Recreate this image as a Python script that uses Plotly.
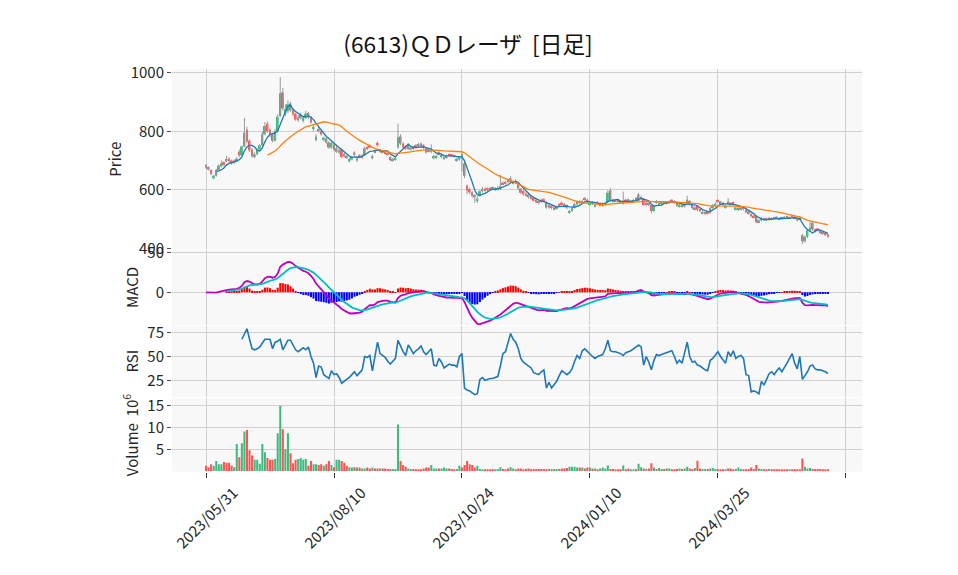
import plotly.graph_objects as go
from plotly.subplots import make_subplots
import pandas as pd

title_text = "(6613)ＱＤレーザ  [日足]"

opens = [
    684, 678, 668, 640, 648, 668, 680, 694, 705, 706,
    700, 692, 698, 730, 718, 748, 805, 768, 738, 712,
    722, 738, 752, 790, 826, 805, 790, 768, 800, 852,
    932, 858, 868, 895, 872, 860, 838, 845, 836, 846,
    862, 848, 808, 770, 808, 800, 770, 775, 762, 745,
    755, 730, 728, 735, 722, 716, 698, 704, 728, 700,
    718, 710, 718, 746, 752, 708, 732, 760, 730, 734,
    730, 726, 712, 700, 704, 745, 782, 758, 748, 740,
    738, 746, 752, 755, 758, 752, 742, 738, 730, 708,
    710, 728, 712, 706, 710, 722, 720, 718, 700, 704,
    722, 690, 615, 602, 592, 582, 562, 580, 595, 604,
    604, 606, 608, 600, 602, 604, 624, 626, 634, 628,
    622, 630, 618, 604, 596, 588, 584, 578, 572, 566,
    562, 566, 568, 556, 540, 546, 534, 536, 552, 556,
    552, 548, 522, 528, 540, 550, 562, 554, 572, 566,
    550, 558, 544, 558, 548, 546, 550, 558, 598, 566,
    566, 564, 562, 552, 566, 568, 558, 560, 572, 562,
    568, 570, 548, 556, 548, 528, 562, 550, 552, 560,
    554, 556, 566, 562, 556, 544, 550, 544, 552, 562,
    548, 534, 546, 534, 520, 518, 526, 522, 538, 546,
    564, 560, 556, 540, 560, 556, 558, 534, 532, 534,
    540, 532, 526, 518, 512, 512, 490, 496, 502, 504,
    498, 504, 506, 508, 504, 506, 508, 508, 502, 512,
    508, 503, 504, 445, 425, 440, 462, 488, 466, 468,
    460, 456, 452, 448,
]
highs = [
    688, 680, 670, 652, 672, 688, 700, 698, 716, 712,
    704, 704, 712, 738, 752, 846, 815, 772, 742, 728,
    742, 756, 800, 832, 834, 812, 795, 808, 858, 985,
    948, 892, 905, 900, 878, 864, 856, 864, 850, 870,
    866, 852, 822, 790, 815, 805, 782, 780, 766, 765,
    760, 750, 742, 738, 726, 720, 710, 716, 732, 712,
    722, 722, 748, 750, 756, 720, 736, 766, 740, 736,
    732, 728, 716, 710, 712, 826, 790, 762, 752, 760,
    750, 750, 756, 760, 762, 756, 744, 742, 756, 720,
    720, 732, 724, 716, 720, 725, 722, 720, 710, 716,
    728, 695, 618, 608, 596, 586, 578, 600, 610, 608,
    608, 610, 612, 610, 614, 651, 630, 632, 638, 648,
    634, 636, 622, 606, 600, 592, 588, 580, 574, 570,
    566, 570, 572, 560, 552, 550, 545, 546, 555, 560,
    556, 550, 532, 544, 556, 564, 566, 566, 576, 570,
    560, 562, 552, 562, 558, 558, 560, 600, 606, 570,
    568, 566, 564, 594, 570, 570, 566, 570, 576, 590,
    580, 572, 560, 558, 550, 548, 566, 560, 560, 562,
    562, 564, 568, 564, 558, 554, 552, 556, 580, 566,
    550, 544, 548, 536, 530, 528, 528, 542, 552, 558,
    568, 562, 558, 550, 572, 558, 560, 544, 542, 544,
    542, 534, 528, 520, 514, 514, 500, 508, 504, 506,
    508, 506, 508, 510, 506, 508, 510, 510, 510, 514,
    510, 505, 508, 450, 445, 466, 492, 492, 468, 470,
    462, 458, 454, 450,
]
lows = [
    672, 666, 650, 636, 645, 665, 676, 680, 694, 694,
    686, 688, 694, 712, 715, 745, 760, 730, 710, 708,
    718, 732, 748, 786, 795, 780, 762, 765, 796, 848,
    870, 852, 862, 866, 852, 836, 832, 840, 830, 842,
    842, 826, 800, 765, 795, 785, 765, 758, 740, 740,
    732, 726, 722, 708, 710, 705, 694, 700, 716, 696,
    708, 706, 716, 736, 742, 704, 724, 748, 726, 724,
    720, 718, 698, 696, 700, 740, 752, 742, 736, 736,
    734, 736, 740, 746, 748, 740, 724, 728, 726, 704,
    706, 718, 708, 702, 706, 714, 712, 710, 696, 700,
    662, 640, 585, 585, 574, 555, 555, 576, 590, 594,
    596, 598, 600, 596, 598, 600, 616, 618, 624, 624,
    618, 620, 600, 586, 580, 576, 570, 566, 560, 554,
    550, 556, 558, 536, 536, 534, 530, 532, 542, 546,
    540, 534, 518, 524, 536, 546, 550, 550, 562, 556,
    546, 548, 540, 548, 544, 542, 546, 555, 560, 556,
    558, 556, 554, 550, 556, 558, 555, 556, 564, 560,
    566, 546, 544, 544, 520, 524, 552, 546, 548, 552,
    550, 552, 558, 552, 542, 540, 540, 540, 548, 546,
    534, 530, 526, 524, 516, 514, 516, 518, 534, 542,
    556, 552, 546, 536, 552, 546, 548, 530, 528, 530,
    530, 520, 516, 506, 502, 486, 486, 492, 494, 496,
    494, 496, 498, 500, 496, 498, 500, 502, 500, 504,
    500, 492, 496, 415, 420, 436, 458, 460, 454, 458,
    450, 446, 442, 436,
]
closes = [
    676, 670, 655, 648, 668, 682, 690, 685, 698, 698,
    692, 700, 706, 718, 748, 795, 765, 735, 715, 722,
    738, 752, 790, 818, 800, 788, 768, 800, 850, 930,
    878, 875, 892, 872, 858, 840, 848, 856, 846, 860,
    848, 830, 815, 782, 800, 790, 778, 762, 745, 760,
    738, 742, 735, 712, 715, 710, 705, 712, 720, 708,
    712, 718, 742, 740, 745, 715, 728, 752, 735, 728,
    725, 722, 702, 706, 708, 780, 758, 745, 740, 755,
    745, 740, 745, 750, 752, 745, 728, 732, 738, 716,
    715, 722, 720, 712, 716, 718, 716, 714, 706, 712,
    715, 648, 598, 592, 580, 575, 570, 595, 603, 598,
    600, 602, 604, 605, 606, 612, 620, 622, 628, 640,
    628, 625, 605, 590, 585, 580, 575, 570, 563, 558,
    555, 560, 562, 540, 548, 538, 540, 542, 546, 550,
    545, 540, 528, 540, 552, 560, 555, 562, 566, 560,
    556, 552, 548, 552, 554, 553, 556, 590, 565, 560,
    562, 560, 558, 562, 560, 562, 563, 565, 568, 584,
    576, 548, 556, 548, 528, 545, 556, 555, 556, 557,
    558, 560, 562, 556, 546, 550, 544, 552, 566, 550,
    538, 540, 532, 528, 525, 523, 520, 538, 548, 553,
    560, 555, 550, 546, 555, 550, 552, 540, 538, 540,
    535, 524, 520, 510, 506, 490, 496, 503, 498, 500,
    503, 500, 502, 504, 500, 502, 504, 505, 507, 508,
    503, 496, 500, 425, 440, 462, 472, 465, 458, 462,
    455, 452, 448, 440,
]
volumes_m = [
    1.2, 0.9, 1.6, 1.2, 2.3, 1.6, 1.6, 2.1, 1.9, 1.9,
    1.3, 0.9, 6.2, 3.2, 6.4, 9.1, 9.4, 4.8, 3.6, 2.6,
    2.6, 1.7, 6.2, 4.3, 3.0, 2.6, 2.6, 2.8, 8.7, 15.0,
    9.6, 5.0, 8.7, 4.1, 1.8, 2.6, 2.8, 3.0, 2.6, 2.8,
    1.2, 2.3, 1.6, 1.6, 1.4, 1.6, 1.2, 1.6, 2.3, 1.4,
    0.9, 2.6, 2.6, 2.3, 1.9, 1.2, 0.9, 0.8, 0.9, 0.8,
    0.8, 0.6, 0.6, 0.8, 0.6, 0.8, 0.6, 0.6, 0.6, 0.6,
    0.6, 0.5, 0.5, 0.5, 0.5, 10.7, 2.3, 1.4, 1.0, 0.6,
    0.5, 0.5, 0.4, 0.4, 0.4, 0.6, 0.8, 0.8, 1.4, 0.6,
    0.6, 0.6, 0.6, 0.8, 0.6, 0.6, 0.5, 0.4, 0.5, 1.2,
    0.8, 1.4, 2.3, 1.6, 1.4, 0.8, 1.2, 0.5, 0.4, 0.4,
    0.4, 0.4, 0.3, 0.4, 0.5, 0.9, 0.5, 0.4, 0.6, 0.9,
    0.6, 0.4, 0.6, 0.6, 0.4, 0.5, 0.6, 0.4, 0.5, 0.5,
    0.5, 0.5, 0.5, 0.4, 0.5, 0.4, 0.5, 0.5, 0.5, 0.6,
    0.6, 0.7, 1.0, 1.0, 1.0, 0.8, 0.8, 0.8, 0.6, 0.8,
    0.8, 0.6, 0.6, 0.4, 0.6, 0.8, 0.6, 1.3, 0.5, 0.5,
    0.4, 0.3, 0.4, 1.3, 0.4, 0.6, 0.4, 0.4, 0.4, 1.7,
    0.9, 0.6, 0.5, 0.6, 1.8, 0.8, 0.5, 0.7, 0.5, 0.5,
    0.6, 0.6, 0.4, 0.4, 0.5, 0.6, 0.5, 0.6, 1.0, 0.6,
    0.5, 0.7, 2.4, 0.6, 0.5, 0.5, 0.5, 0.6, 0.7, 0.5,
    0.3, 0.3, 0.3, 0.4, 0.6, 0.6, 0.4, 0.5, 0.8, 0.5,
    0.3, 0.3, 0.5, 0.8, 0.5, 1.4, 0.6, 0.5, 0.3, 0.4,
    0.5, 0.3, 0.3, 0.4, 0.3, 0.2, 0.3, 0.3, 0.3, 0.3,
    0.3, 0.3, 0.4, 2.9, 1.0, 0.6, 0.7, 0.5, 0.5, 0.5,
    0.5, 0.4, 0.4, 0.2,
]
rsi_start = 14
rsi_values = [
    68, 73, 79, 68, 58, 57, 58, 60, 64, 68,
    68, 68, 58, 65, 66, 68, 57, 62, 67, 67,
    62, 57, 55, 57, 59, 57, 60, 50, 43, 28,
    40, 39, 31, 29, 27, 35, 31, 32, 28, 22,
    24, 26, 28, 31, 34, 30, 33, 36, 50, 49,
    51, 35, 50, 65, 53, 51, 49, 45, 42, 45,
    48, 67, 60, 55, 51, 62, 58, 53, 56, 58,
    61, 55, 52, 55, 58, 41, 40, 48, 44, 38,
    40, 42, 41, 41, 39, 50, 53, 17, 15, 14,
    12, 10, 11, 26, 28, 25, 26, 27, 27, 28,
    29, 40, 53, 55, 64, 74, 68, 65, 58, 48,
    44, 42, 40, 38, 33, 32, 31, 34, 36, 17,
    23, 17, 20, 24, 30, 35, 33, 31, 33, 37,
    45, 51, 48, 56, 58, 55, 52, 50, 48, 50,
    51, 52, 58, 67, 56, 55, 55, 54, 53, 51,
    54, 55, 56, 58, 60, 62, 60, 41, 50, 44,
    36, 46, 52, 51, 52, 53, 54, 55, 56, 50,
    43, 46, 43, 54, 65, 50, 44, 45, 41, 40,
    38, 36, 35, 46, 48, 51, 55, 50, 46, 43,
    55, 50, 56, 48, 50, 51, 48, 31, 30, 13,
    14, 13, 11, 24, 20, 27, 32, 34, 31, 35,
    38, 34, 38, 43, 48, 53, 43, 37, 50, 26,
    30, 34, 40, 41, 37, 36, 36, 35, 34, 32,
]
tick_pos = [0, 50, 100, 150, 200, 250]
tick_labels = ["2023/05/31", "2023/08/10", "2023/10/24", "2024/01/10", "2024/03/25", ""]

n = len(closes)
assert len(opens) == n and len(highs) == n and len(lows) == n and len(volumes_m) == n
assert len(rsi_values) == n - rsi_start
xs = list(range(n))

UP = "#3dbb7e"
DOWN = "#ff5252"
WICK = "#9a9a9a"
GRID = "#d0d0d0"
BG = "#f8f8f8"

s = pd.Series(closes, dtype=float)
ma5 = s.rolling(5).mean()
ma25 = s.rolling(25).mean()
macd = s.ewm(span=12).mean() - s.ewm(span=26).mean()
signal = macd.ewm(span=9, adjust=False, min_periods=9).mean()
hist = macd - signal

up = [c >= o for o, c in zip(opens, closes)]
body_base = [min(o, c) for o, c in zip(opens, closes)]
body_h = [abs(c - o) for o, c in zip(opens, closes)]
colors = [UP if u else DOWN for u in up]

wx, wy = [], []
for i in xs:
    wx += [i, i, None]
    wy += [lows[i], highs[i], None]

fig = make_subplots(rows=4, cols=1, shared_xaxes=True, vertical_spacing=0.0)

fig.add_trace(go.Scatter(x=wx, y=wy, mode="lines", line=dict(color=WICK, width=1),
                         hoverinfo="skip"), row=1, col=1)
fig.add_trace(go.Bar(x=xs, y=body_h, base=body_base, marker=dict(color=colors, line=dict(width=0)),
                     width=0.75), row=1, col=1)
fig.add_trace(go.Scatter(x=xs, y=ma5, mode="lines", line=dict(color="#1f77b4", width=1.3)), row=1, col=1)
fig.add_trace(go.Scatter(x=xs, y=ma25, mode="lines", line=dict(color="#ff7f0e", width=1.3)), row=1, col=1)

hist_colors = ["#ff0000" if (h == h and h >= 0) else "#0000ff" for h in hist]
fig.add_trace(go.Bar(x=xs, y=hist, marker=dict(color=hist_colors, line=dict(width=0)), width=0.8), row=2, col=1)
fig.add_trace(go.Scatter(x=xs, y=macd, mode="lines", line=dict(color="#bf00bf", width=1.8)), row=2, col=1)
fig.add_trace(go.Scatter(x=xs, y=signal, mode="lines", line=dict(color="#00bfbf", width=1.8)), row=2, col=1)

fig.add_trace(go.Scatter(x=xs[rsi_start:], y=rsi_values, mode="lines",
                         line=dict(color="#1f77b4", width=1.6)), row=3, col=1)

fig.add_trace(go.Bar(x=xs, y=volumes_m, marker=dict(color=colors, line=dict(width=0)), width=0.8), row=4, col=1)

# page body has an 8px default margin; figure is sized/positioned to compensate
OFF = 8
W, H = 958 - OFF, 575 - OFF
FONT = "Noto Sans CJK JP"
fig.update_layout(
    width=W, height=H,
    margin=dict(l=172 - OFF, r=96, t=69 - OFF, b=103),
    paper_bgcolor="white", plot_bgcolor=BG,
    showlegend=False, barmode="overlay",
    font=dict(family=FONT, size=15, color="#262626"),
    title=dict(text=title_text, x=(468 - OFF) / W, xref="container", xanchor="center",
               y=1 - (45 - OFF) / H, yref="container", yanchor="middle",
               font=dict(family=FONT, size=22.7, color="#111")),
)

domains = [[0.5526, 1.0], [0.3648, 0.5509], [0.1868, 0.3628], [0.0007, 0.1829]]
yranges = [[397.2, 1012.6], [-41.3, 53.4], [7.9, 82.1], [-0.14, 16.7]]
yticks = [[400, 600, 800, 1000], [0, 50], [25, 50, 75], [5, 10, 15]]
ytitles = ["Price", "MACD", "RSI", "Volume  10<sup>6</sup>"]
for k in range(4):
    ax = "yaxis" if k == 0 else f"yaxis{k+1}"
    fig.layout[ax].update(
        domain=domains[k], range=yranges[k], tickvals=yticks[k],
        showgrid=True, gridcolor=GRID, gridwidth=1, zeroline=False, showline=False,
        ticks="outside", ticklen=4, tickcolor="#555", tickfont=dict(size=15, color="#262626"),
        title=dict(text=ytitles[k], standoff=5, font=dict(size=15, color="#262626")),
    )
    xa = "xaxis" if k == 0 else f"xaxis{k+1}"
    fig.layout[xa].update(
        range=[-13.3, 256.3], tickvals=tick_pos, ticktext=tick_labels,
        showgrid=True, gridcolor=GRID, gridwidth=1, zeroline=False, showline=False,
        showticklabels=False, ticks=("outside" if k == 3 else ""), ticklen=5, tickcolor="#333",
    )

# rotated date labels centred on their ticks (matplotlib-style)
for p, lab in zip(tick_pos, tick_labels):
    if lab:
        fig.add_annotation(x=p, xref="x4", y=-0.1117, yref="paper", text=lab,
                           textangle=-45, showarrow=False, xanchor="center", yanchor="middle",
                           font=dict(family=FONT, size=15, color="#262626"))

fig.write_html("out.html")
